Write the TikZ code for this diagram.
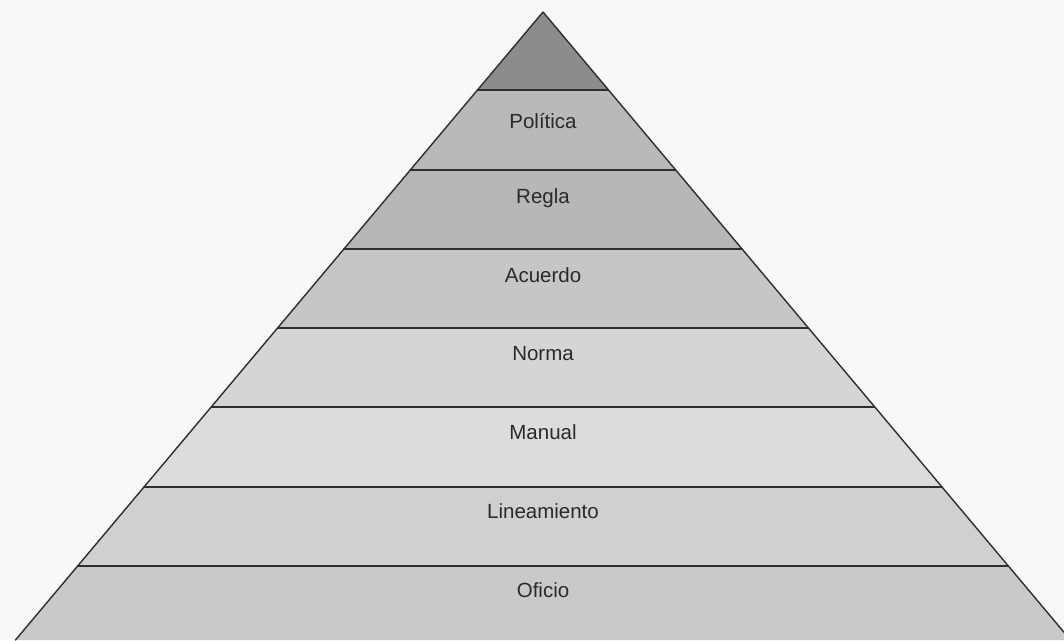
\documentclass[tikz,border=0pt]{standalone}
\usepackage{fontspec}
\setmainfont{Liberation Sans}
\definecolor{bg}{HTML}{F8F8F8}
\definecolor{c0}{HTML}{8C8C8C}
\definecolor{c1}{HTML}{B9B9B9}
\definecolor{c2}{HTML}{B7B7B7}
\definecolor{c3}{HTML}{C6C6C6}
\definecolor{c4}{HTML}{D5D5D5}
\definecolor{c5}{HTML}{DCDCDC}
\definecolor{c6}{HTML}{D0D0D0}
\definecolor{c7}{HTML}{C9C9C9}
\definecolor{edge}{HTML}{2E2E2E}
\definecolor{txt}{HTML}{2A2A2A}
\tikzset{
  level/.style={font=\fontsize{20.5}{22}\selectfont, text=txt, inner sep=0pt},
  rim/.style={draw=edge, line width=1.4pt, line cap=round, line join=round}
}
\begin{document}
\begin{tikzpicture}[x=1pt,y=-1pt]
\useasboundingbox (0,0) rectangle (1064,640);
\fill[bg] (0,0) rectangle (1064,640);
\begin{scope}
\clip (0,0) rectangle (1064,640);
% apex and band boundaries (center x = 543, half width = 0.84*(y-12))
\coordinate (apex) at (543,12);
\foreach \i/\y in {1/90,2/170,3/249,4/328,5/407,6/487,7/566,8/640}{
  \pgfmathsetmacro\hw{0.84*(\y-12)}
  \coordinate (L\i) at ({543-\hw},\y);
  \coordinate (R\i) at ({543+\hw},\y);
}
\fill[c0] (apex) -- (L1) -- (R1) -- cycle;
\fill[c1] (L1) -- (R1) -- (R2) -- (L2) -- cycle;
\fill[c2] (L2) -- (R2) -- (R3) -- (L3) -- cycle;
\fill[c3] (L3) -- (R3) -- (R4) -- (L4) -- cycle;
\fill[c4] (L4) -- (R4) -- (R5) -- (L5) -- cycle;
\fill[c5] (L5) -- (R5) -- (R6) -- (L6) -- cycle;
\fill[c6] (L6) -- (R6) -- (R7) -- (L7) -- cycle;
\fill[c7] (L7) -- (R7) -- (R8) -- (L8) -- cycle;
\foreach \i in {1,...,7}{
  \draw[rim] (L\i) -- (R\i);
}
\draw[rim] (L8) -- (apex) -- (R8);
\end{scope}
\node[level] (politica) at (543,121) {Política};
\node[level] (regla) at (543,198) {Regla};
\node[level] (acuerdo) at (543,275) {Acuerdo};
\node[level] (norma) at (543,354) {Norma};
\node[level] (manual) at (543,432) {Manual};
\node[level] (lineamiento) at (543,511) {Lineamiento};
\node[level] (oficio) at (543,590) {Oficio};
\end{tikzpicture}
\end{document}
